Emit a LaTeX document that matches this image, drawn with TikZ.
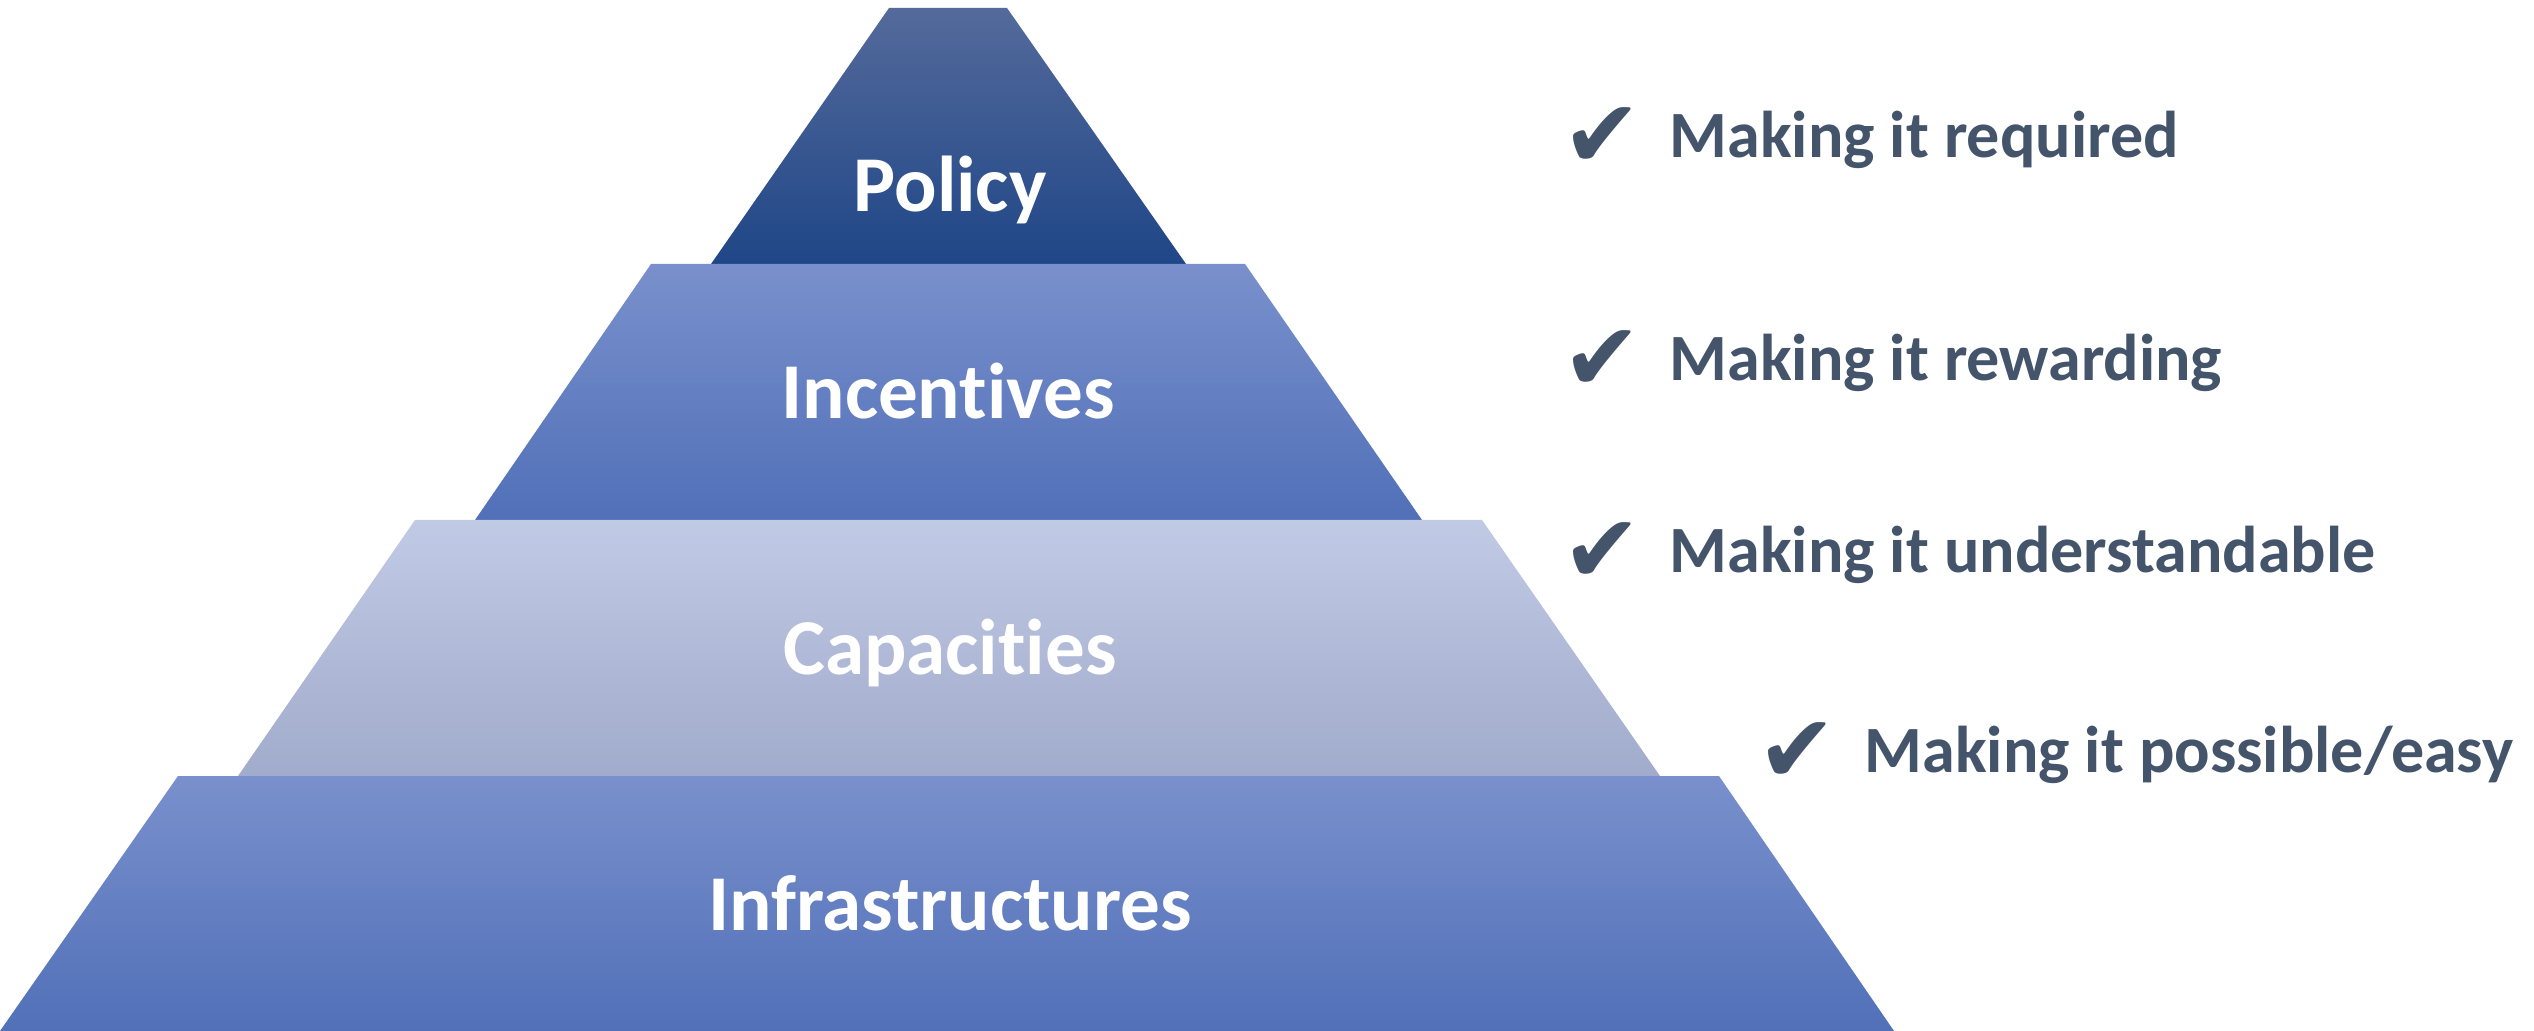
\documentclass[tikz,border=0pt]{standalone}
\usepackage{fontspec}
\setmainfont{Carlito}[Ligatures=NoCommon]
\newfontfamily\chkfont{DejaVu Sans}
\definecolor{txtcol}{RGB}{68,84,106}
\definecolor{polTop}{RGB}{84,106,155}
\definecolor{polMid}{RGB}{44,83,148}
\definecolor{polBot}{RGB}{31,70,135}
\definecolor{midTop}{RGB}{121,144,204}
\definecolor{midBot}{RGB}{81,112,184}
\definecolor{capTop}{RGB}{193,202,229}
\definecolor{capBot}{RGB}{161,171,203}
\tikzset{
  lbl/.style={text=white, font=\fontsize{22.5}{27}\selectfont\bfseries, anchor=base, inner sep=0pt},
  item/.style={text=txtcol, font=\fontsize{18.8}{23}\selectfont\bfseries, anchor=base west, inner sep=0pt},
  chk/.style={text=txtcol, font=\chkfont\bfseries\fontsize{27}{30}\selectfont, anchor=base west, inner sep=0pt},
}
\begin{document}
\begin{tikzpicture}[x=0.01cm,y=-0.01cm]
\useasboundingbox (0,0) rectangle (2534,1031);
% layers
\shade[top color=polTop, middle color=polMid, bottom color=polBot]
  (889,8) -- (1007,8) -- (1186,264) -- (711,264) -- cycle;
\shade[top color=midTop, bottom color=midBot]
  (651,264) -- (1245,264) -- (1422,520) -- (475,520) -- cycle;
\shade[top color=capTop, bottom color=capBot]
  (415,520) -- (1482,520) -- (1660,776) -- (238,776) -- cycle;
\shade[top color=midTop, bottom color=midBot]
  (178,776) -- (1719,776) -- (1894,1031) -- (0,1031) -- cycle;
% labels
\node[lbl] (policy) at (950,212) {Policy};
\node[lbl] (incent) at (948,419) {Incentives};
\node[lbl] (capac) at (950,674) {Capacities};
\node[lbl] (infra) at (950,930) {Infrastructures};
% right items
\node[chk] (c1) at (1562,168) {✔};
\node[item] (t1) at (1669,158) {Making it required};
\node[chk] (c2) at (1562,391) {✔};
\node[item] (t2) at (1669,381) {Making it rewarding};
\node[chk] (c3) at (1562,583) {✔};
\node[item] (t3) at (1669,573) {Making it understandable};
\node[chk] (c4) at (1757,782) {✔};
\node[item] (t4) at (1864,772) {Making it possible/easy};
\end{tikzpicture}
\end{document}
